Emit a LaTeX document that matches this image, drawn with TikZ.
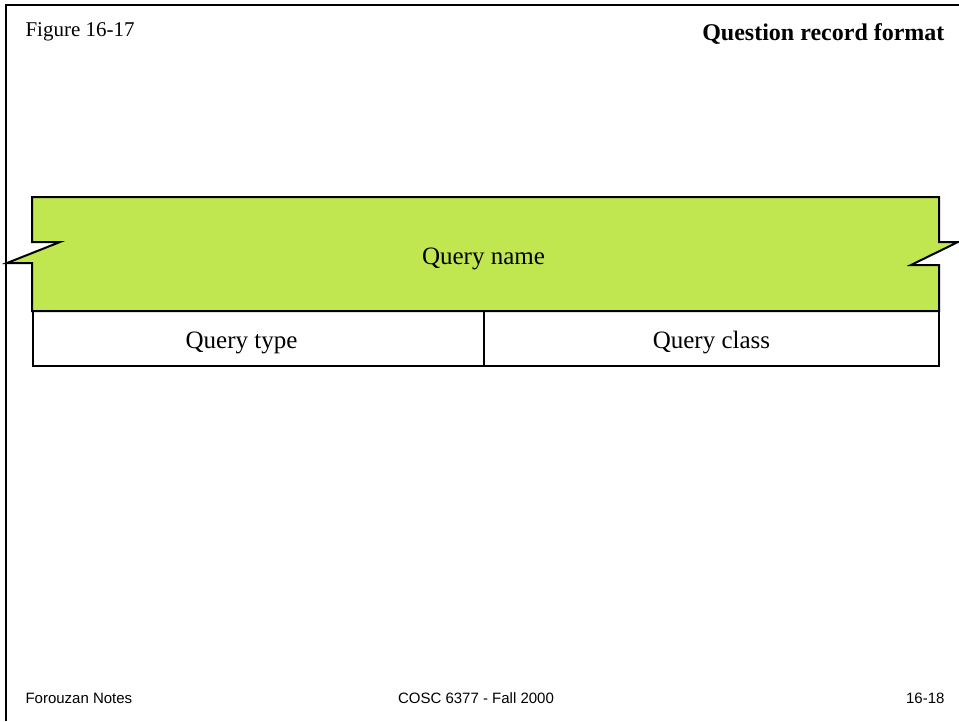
\documentclass[tikz,border=0pt]{standalone}
\usepackage{fontspec}
\setmainfont{Liberation Serif}
\newfontfamily\notesfont{Liberation Sans}
\definecolor{namegreen}{RGB}{193,231,80}

\begin{document}
\begin{tikzpicture}[x=1pt,y=-1pt,
    fieldbox/.style={draw, line width=1.5pt, minimum height=55pt, inner sep=0pt},
    fieldtext/.style={anchor=base, font=\fontsize{25}{30}\selectfont},
    notetext/.style={font=\notesfont\fontsize{15}{18}\selectfont}]
   \useasboundingbox (0,0) rectangle (959,721);
   % page frame
   \draw[line width=2.5pt] (959,5) -- (6,5) -- (6,721);
   \node[anchor=base west, font=\fontsize{21}{25}\selectfont] (fig) at (22,36) {Figure 16-17};
   \node[anchor=base east, font=\bfseries\fontsize{24}{29}\selectfont] (title) at (948,40) {Question record format};
   % query name field with break marks
   \draw[line width=2pt, fill=namegreen, line join=miter]
     (32,197) -- (939,197) -- (939,242) -- (958,242) -- (911,265) -- (939,265)
     -- (939,311) -- (32,311) -- (32,263) -- (7,263) -- (60,242) -- (32,242) -- cycle;
   \node[fieldtext] (qname) at (483.5,264) {Query name};
   % type and class fields
   \node[fieldbox, minimum width=451pt] (tbox) at (258.5,338.5) {};
   \node[fieldbox, minimum width=455pt] (cbox) at (711.5,338.5) {};
   \node[fieldtext] (qtype) at (241.5,348) {Query type};
   \node[fieldtext] (qclass) at (711.5,348) {Query class};
   % footer
   \node[notetext, anchor=base west] (left) at (22,703) {Forouzan Notes};
   \node[notetext, anchor=base] (mid) at (476,703) {COSC 6377 - Fall 2000};
   \node[notetext, anchor=base east] (right) at (948,703) {16-18};
\end{tikzpicture}
\end{document}
